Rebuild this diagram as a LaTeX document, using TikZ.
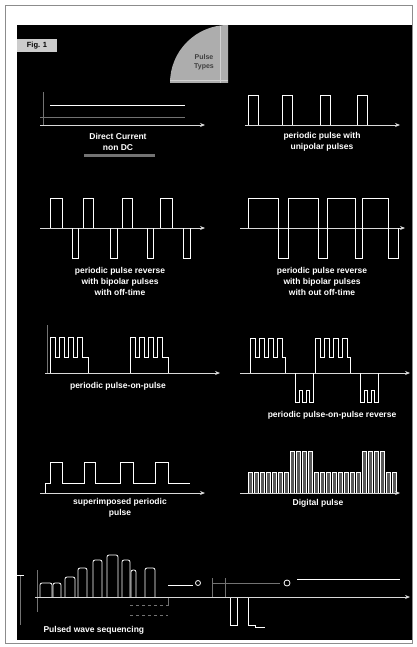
\documentclass[tikz,border=0pt]{standalone}
\usepackage{fontspec}
\setmainfont{Liberation Sans}
\usetikzlibrary{arrows.meta}
\begin{document}
\begin{tikzpicture}[x=1pt,y=-1pt,
 wave/.style={white, line width=0.8pt},
 faint/.style={white!45!black, line width=0.4pt},
 axis/.style={white!85!black, line width=0.8pt, -{Stealth[length=5pt,width=4pt]}},
 lbl/.style={white, font=\bfseries\fontsize{8.5}{11}\selectfont, align=center},
 bar/.style={draw=white, fill=white!35!black, line width=0.5pt},
]
\useasboundingbox (0,0) rectangle (417,647);
\fill[white] (0,0) rectangle (417,647);
\draw[white!55!black, line width=1pt] (5,6) rectangle (412,643);
\fill[black] (17,25) rectangle (412,640);

% figure tag and quarter disc
\node[fill=white!80!black, text=black, font=\bfseries\fontsize{7.5}{8}\selectfont, minimum width=40pt, minimum height=13pt, inner sep=0pt] (fig) at (37,46) {Fig. 1};
\fill[white!68!black] (228,83) -- (170,83) arc[start angle=180, end angle=270, radius=58] -- cycle;
\draw[white!82!black, line width=0.6pt] (220,83) -- (220,26);
\draw[white!82!black, line width=0.6pt] (170,80) -- (228,80);
\node[text=white!25!black, font=\bfseries\fontsize{7}{9}\selectfont, align=center] (qd) at (204,62) {Pulse\\Types};

% panel 1: DC
\draw[faint] (43,92) -- (43,125);
\draw[faint] (40,117) -- (185,117);
\draw[axis] (40,125) -- (205,125);
\draw[wave] (50,105) -- (185,105);
\node[lbl] (l1) at (118,142) {Direct Current\\non DC};
\fill[white!45!black] (84,154) rectangle (155,157);

% panel 2: unipolar
\draw[axis] (245,125) -- (400,125);
\foreach \a/\b in {248/258,282/292,320/330,357/367}
  \draw[wave] (\a,125) -- (\a,95) -- (\b,95) -- (\b,125);
\node[lbl] (l2) at (322,142) {periodic pulse with\\unipolar pulses};

% panel 3: bipolar with off-time
\draw[axis] (40,228) -- (205,228);
\foreach \a/\b in {50/62,83/93,122/132,160/172}
  \draw[wave] (\a,228) -- (\a,198) -- (\b,198) -- (\b,228);
\foreach \a/\b in {72/78,110/117,147/153,183/190}
  \draw[wave] (\a,228) -- (\a,258) -- (\b,258) -- (\b,228);
\node[lbl] (l3) at (120,281) {periodic pulse reverse\\with bipolar pulses\\with off-time};

% panel 4: bipolar without off-time
\draw[axis] (240,228) -- (405,228);
\draw[wave] (248,228) -- (248,198) -- (278,198) -- (278,258) -- (288,258) -- (288,198)
  -- (318,198) -- (318,258) -- (327,258) -- (327,198) -- (355,198) -- (355,258)
  -- (362,258) -- (362,198) -- (388,198) -- (388,258) -- (398,258) -- (398,228);
\node[lbl] (l4) at (322,281) {periodic pulse reverse\\with bipolar pulses\\with out off-time};

% panel 5: pulse-on-pulse
\draw[faint] (47,325) -- (47,373);
\draw[axis] (45,373) -- (220,373);
\foreach \s in {50,130}
  \draw[wave] (\s,373) -- (\s,337) -- ++(5,0) -- ++(0,20) -- ++(4,0) -- ++(0,-20)
    -- ++(5,0) -- ++(0,20) -- ++(4,0) -- ++(0,-20) -- ++(5,0) -- ++(0,20)
    -- ++(4,0) -- ++(0,-20) -- ++(5,0) -- ++(0,20) -- ++(6,0) -- ++(0,16);
\node[lbl] (l5) at (118,386) {periodic pulse-on-pulse};

% panel 6: pulse-on-pulse reverse
\draw[axis] (240,373) -- (410,373);
\foreach \s in {250,315}
  \draw[wave] (\s,373) -- (\s,338) -- ++(5,0) -- ++(0,19) -- ++(4,0) -- ++(0,-19)
    -- ++(5,0) -- ++(0,19) -- ++(4,0) -- ++(0,-19) -- ++(5,0) -- ++(0,19)
    -- ++(4,0) -- ++(0,-19) -- ++(5,0) -- ++(0,19) -- ++(3,0) -- ++(0,16);
\foreach \s in {295,360}
  \draw[wave] (\s,373) -- (\s,402) -- ++(4,0) -- ++(0,-12) -- ++(3,0) -- ++(0,12)
    -- ++(4,0) -- ++(0,-12) -- ++(3,0) -- ++(0,12) -- ++(4,0) -- ++(0,-29);
\node[lbl] (l6) at (332,415) {periodic pulse-on-pulse reverse};

% panel 7: superimposed
\draw[axis] (40,493) -- (205,493);
\draw[wave] (45,493) -- (45,483) -- (50,483) -- (50,462) -- (62,462) -- (62,483)
  -- (84,483) -- (84,462) -- (95,462) -- (95,483) -- (120,483) -- (120,462)
  -- (133,462) -- (133,483) -- (155,483) -- (155,462) -- (168,462) -- (168,483)
  -- (190,483);
\node[lbl] (l7) at (120,508) {superimposed periodic\\pulse};

% panel 8: digital pulse
\foreach \x in {248,254,...,392}{
  \pgfmathsetmacro{\top}{((\x>286 && \x<314) || (\x>358 && \x<386)) ? 451 : 472}
  \draw[bar] (\x,493) rectangle (\x+4,\top);
}
\draw[axis] (240,493) -- (400,493);
\node[lbl] (l8) at (318,503) {Digital pulse};

% panel 9: pulsed wave sequencing
\draw[faint] (20,575) -- (20,625);
\draw[wave] (17,575) -- (24,575);
\draw[faint] (37,570) -- (37,612);
\foreach \a/\b/\t in {40/52/583,53/61/583,65/75/577,78/87/568,93/102/560,107/118/555,122/130/560,131/136/570,145/155/568}
  \draw[wave, rounded corners=2pt] (\a,597) -- (\a,\t) -- (\b,\t) -- (\b,597);
\draw[faint, dashed] (130,605) -- (168,605);
\draw[faint, dashed] (130,615) -- (168,615);
\draw[faint] (168,597) -- (168,606);
\draw[wave] (168,585) -- (193,585);
\draw[wave] (198,583) circle[radius=2.5];
\draw[faint] (212,583) -- (280,583);
\draw[faint] (212,578) -- (212,597);
\draw[faint] (225,578) -- (225,597);
\draw[wave] (287,583) circle[radius=3];
\draw[wave] (297,579) -- (400,579);
\draw[wave] (230,597) -- (230,625) -- (237,625) -- (237,597);
\draw[wave] (248,597) -- (248,625) -- (255,625) -- (255,627) -- (265,627);
\draw[axis] (35,597) -- (410,597);
\node[lbl, anchor=west] (l9) at (40,630) {Pulsed wave sequencing};
\end{tikzpicture}
\end{document}
